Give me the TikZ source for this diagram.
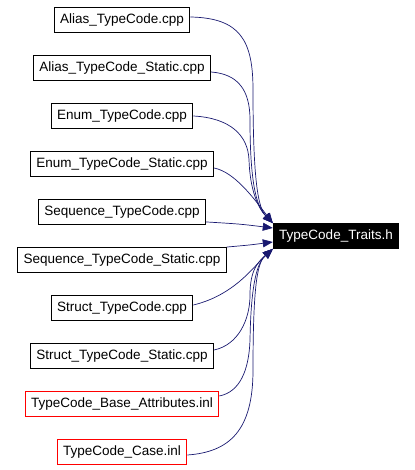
\documentclass[tikz,border=0pt]{standalone}
\usepackage{fontspec}
\setmainfont{Liberation Sans}
\usetikzlibrary{positioning,arrows.meta,calc}
\definecolor{edgeBlue}{HTML}{191970}
\definecolor{inlRed}{HTML}{FF0000}

\tikzset{
  file/.style={draw=black,line width=0.9pt,fill=white,minimum height=25pt,
               inner xsep=6pt,inner ysep=0pt,font=\fontsize{13.5}{16}\selectfont},
  fileRed/.style={file,draw=inlRed},
  fileTarget/.style={file,draw=black,fill=black,text=white},
  dep/.style={draw=edgeBlue,line width=0.7pt,-{Triangle[length=10pt,width=8pt]}}
}

\begin{document}
\begin{tikzpicture}[x=1pt,y=1pt,node distance=22.1pt]
        \useasboundingbox (0,0) rectangle (414,470);
        % included files, top to bottom
        \node[file] (alias) at (122,450) {Alias\_TypeCode.cpp};
        \node[file,below=of alias] (aliasStatic) {Alias\_TypeCode\_Static.cpp};
        \node[file,below=of aliasStatic] (enum) {Enum\_TypeCode.cpp};
        \node[file,below=of enum] (enumStatic) {Enum\_TypeCode\_Static.cpp};
        \node[file,below=of enumStatic] (seq) {Sequence\_TypeCode.cpp};
        \node[file,below=of seq] (seqStatic) {Sequence\_TypeCode\_Static.cpp};
        \node[file,below=of seqStatic] (struct) {Struct\_TypeCode.cpp};
        \node[file,below=of struct] (structStatic) {Struct\_TypeCode\_Static.cpp};
        \node[fileRed,below=of structStatic] (baseAttr) {TypeCode\_Base\_Attributes.inl};
        \node[fileRed,below=of baseAttr] (caseInl) {TypeCode\_Case.inl};
        % the header
        \node[fileTarget] (traits) at (336,234) {TypeCode\_Traits.h};

        % edges from above
        \draw[dep] ($(alias.east)+(0,3)$) .. controls (240,452) and (253,430) .. (253,380)
              .. controls (253,290) and (258,262) .. (traits.north west);
        \draw[dep] ($(aliasStatic.east)+(0,-4)$) .. controls (238,396) and (250,380) .. (250,350)
              .. controls (250,280) and (258,262) .. (traits.north west);
        \draw[dep] (enum.east) .. controls (230,352) and (248,335) .. (249,310)
              .. controls (250,280) and (258,262) .. (traits.north west);
        \draw[dep] ($(enumStatic.east)+(0,-4)$) .. controls (235,298) and (255,270) .. (traits.north west);
        % nearly straight ones
        \draw[dep] ($(seq.south east)+(0,3)$) .. controls (240,246) .. ($(traits.west)+(0,8)$);
        \draw[dep] (seqStatic.north east) .. controls (250,225) .. ($(traits.west)+(0,-6)$);
        % edges from below
        \draw[dep] ($(struct.east)+(0,3)$) .. controls (235,175) and (255,205) .. (traits.south west);
        \draw[dep] ($(structStatic.east)+(0,6)$) .. controls (238,125) and (250,150) .. (250,175)
              .. controls (250,200) and (258,208) .. (traits.south west);
        \draw[dep] ($(baseAttr.east)+(0,8)$) .. controls (240,78) and (249,100) .. (250,130)
              .. controls (251,190) and (258,208) .. (traits.south west);
        \draw[dep] ($(caseInl.east)+(0,-3)$) .. controls (230,18) and (253,40) .. (253,100)
              .. controls (253,190) and (258,208) .. (traits.south west);
\end{tikzpicture}
\end{document}
